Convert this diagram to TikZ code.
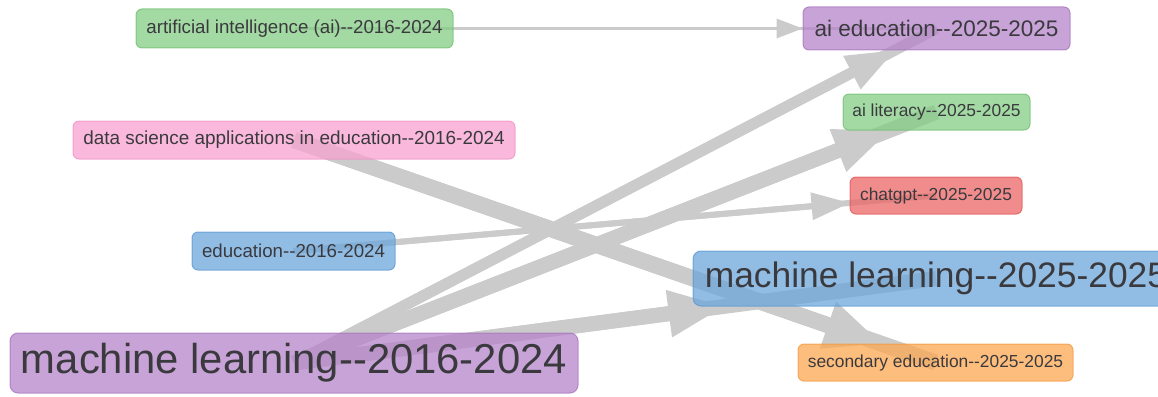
\documentclass[tikz,border=0pt]{standalone}
\usepackage{fontspec}
\newfontfamily\lab{Liberation Sans}
\usetikzlibrary{arrows.meta,backgrounds}
\definecolor{txt}{RGB}{58,58,62}
\definecolor{edgegray}{RGB}{203,203,203}
\definecolor{gfill}{RGB}{132,204,132}
\definecolor{gdraw}{RGB}{110,190,110}
\definecolor{pfill}{RGB}{182,132,202}
\definecolor{pdraw}{RGB}{165,115,188}
\definecolor{kfill}{RGB}{248,162,208}
\definecolor{kdraw}{RGB}{240,145,196}
\definecolor{bfill}{RGB}{108,166,219}
\definecolor{bdraw}{RGB}{90,150,208}
\definecolor{rfill}{RGB}{235,102,102}
\definecolor{rdraw}{RGB}{222,85,85}
\definecolor{ofill}{RGB}{252,168,82}
\definecolor{odraw}{RGB}{242,152,64}
\tikzset{
  nd/.style={rounded corners=6pt, line width=1pt, inner sep=0pt,
    fill opacity=0.75, draw opacity=0.75, text opacity=1, text=txt},
  greennd/.style={nd, fill=gfill, draw=gdraw},
  purplend/.style={nd, fill=pfill, draw=pdraw},
  pinknd/.style={nd, fill=kfill, draw=kdraw},
  bluend/.style={nd, fill=bfill, draw=bdraw},
  rednd/.style={nd, fill=rfill, draw=rdraw},
  orangend/.style={nd, fill=ofill, draw=odraw},
  edgeline/.style={draw=edgegray, fill=edgegray}
}
\newcommand\fs[1]{\lab\fontsize{#1}{#1}\selectfont}
\newcommand\myedge[5]{%
  \draw[edgeline, line width=#1pt] (#4.center) -- (#5.center);
  \draw[edgeline, line width=#1pt, -{Triangle[length=#2pt,width=#3pt,line width=0pt]}] (#4.center) -- (#5);
}
\begin{document}
\begin{tikzpicture}[x=1pt,y=-1pt]
\useasboundingbox (0,0) rectangle (1158,396);
\clip (0,0) rectangle (1158,396);
% left column
\node[greennd, minimum width=317pt, minimum height=39pt, font=\fs{18.7}] (ai) at (294.5,28.5) {artificial intelligence (ai)--2016-2024};
\node[pinknd, minimum width=442pt, minimum height=38pt, font=\fs{18.9}] (ds) at (294,140) {data science applications in education--2016-2024};
\node[bluend, minimum width=203pt, minimum height=38pt, font=\fs{18.7}] (edu) at (293.5,251) {education--2016-2024};
\node[purplend, rounded corners=8pt, minimum width=568pt, minimum height=60pt, font=\fs{41.8}] (ml16) at (294,363) {machine learning--2016-2024};
% right column
\node[purplend, minimum width=267pt, minimum height=43pt, font=\fs{22.5}] (aiedu) at (936.5,28.5) {ai education--2025-2025};
\node[greennd, minimum width=187pt, minimum height=36pt, font=\fs{17.4}] (ailit) at (936.5,112) {ai literacy--2025-2025};
\node[rednd, minimum width=172pt, minimum height=37pt, font=\fs{17.4}] (chat) at (936,195.5) {chatgpt--2025-2025};
\node[bluend, rounded corners=8pt, minimum width=486pt, minimum height=55pt, font=\fs{35.4}] (ml25) at (936,278.5) {machine learning--2025-2025};
\node[orangend, minimum width=275pt, minimum height=37pt, font=\fs{17.4}] (sec) at (935.5,362.5) {secondary education--2025-2025};
\begin{scope}[on background layer]
\myedge{2.5}{26}{20}{ai}{aiedu}
\myedge{11}{48}{38}{ml16}{aiedu}
\myedge{15}{55}{46}{ml16}{ailit}
\myedge{6}{38}{28}{edu}{chat}
\myedge{15}{55}{48}{ml16}{ml25}
\myedge{16}{56}{50}{ds}{sec}
\end{scope}
\end{tikzpicture}
\end{document}
